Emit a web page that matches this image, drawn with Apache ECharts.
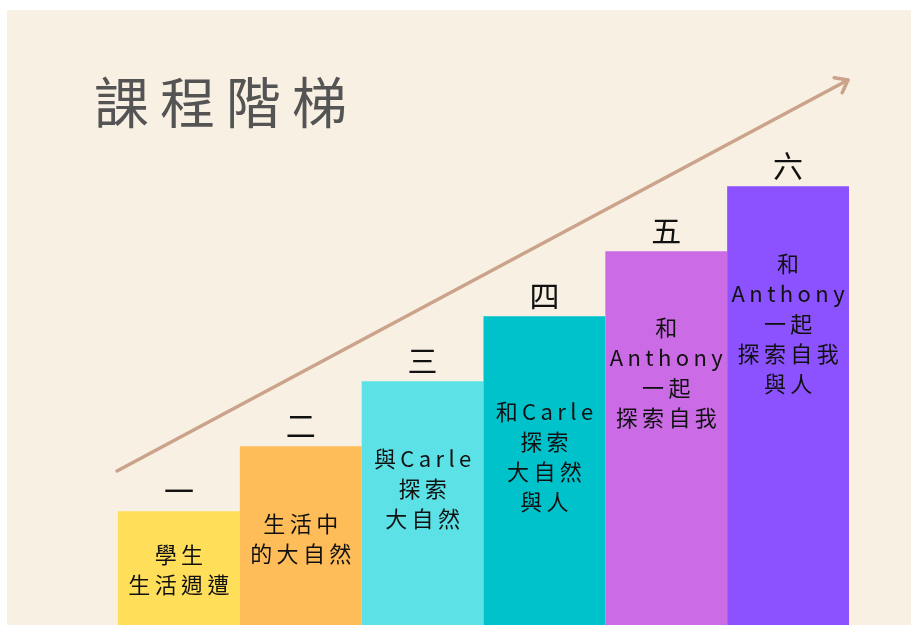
<!DOCTYPE html>
<html>
<head>
<meta charset="utf-8">
<script src="https://cdn.jsdelivr.net/npm/echarts@6/dist/echarts.min.js"></script>
<style>
html,body{margin:0;padding:0;background:#fff;}
#c{width:911px;height:625px;}
</style>
</head>
<body>
<div id="c"></div>
<script>
// ---- data ----
const stages = ['一', '二', '三', '四', '五', '六'];
const levels = [1.75, 2.75, 3.75, 4.75, 5.75, 6.75];
const topics = [
  '學生\n生活週遭',
  '生活中\n的大自然',
  '與Carle\n探索\n大自然',
  '和Carle\n探索\n大自然\n與人',
  '和\nAnthony\n一起\n探索自我',
  '和\nAnthony\n一起\n探索自我\n與人'
];
const titleText = '課程階梯';

// ---- styles ----
const barColors = ['#FFDE59', '#FFBD59', '#5CE1E6', '#00C2CB', '#CB6CE6', '#8C52FF'];
const labelOffsets = [28, 62, 62, 80, 61, 62];
const cream = '#F8F0E2';
const arrowColor = '#CBA38B';
const cjk = "'Noto Sans CJK TC', 'Noto Sans CJK SC', sans-serif";
// emulate letter spacing with thin spaces
const spaced = (s, sp) => s.split('\n').map(l => Array.from(l).join(sp)).join('\n');

const chart = echarts.init(document.getElementById('c'));

const x0 = 117, y0 = 471, x1 = 848, y1 = 80;
const th = Math.atan2(y1 - y0, x1 - x0);
const wl = 14, wa = 0.65;
const w1 = [x1 + wl * Math.cos(th + Math.PI - wa), y1 + wl * Math.sin(th + Math.PI - wa)];
const w2 = [x1 + wl * Math.cos(th + Math.PI + wa), y1 + wl * Math.sin(th + Math.PI + wa)];

chart.setOption({
  backgroundColor: '#ffffff',
  animation: false,
  title: {
    text: spaced(titleText, '\u2009'),
    left: 89,
    top: 70,
    textStyle: { fontFamily: cjk, fontSize: 55, fontWeight: 'normal', color: '#545454' }
  },
  graphic: [
    { type: 'rect', z: -10, silent: true, shape: { x: 7, y: 10, width: 904, height: 615 }, style: { fill: cream } },
    { type: 'line', z: 10, silent: true, shape: { x1: x0, y1: y0, x2: x1, y2: y1 }, style: { stroke: arrowColor, lineWidth: 3.5, lineCap: 'round' } },
    { type: 'polyline', z: 10, silent: true, shape: { points: [w1, [x1, y1], w2] }, style: { stroke: arrowColor, lineWidth: 3.5, lineCap: 'round', lineJoin: 'round', fill: null } }
  ],
  grid: { left: 118, right: 62, top: 10, bottom: 0 },
  xAxis: {
    type: 'category',
    data: stages,
    show: false
  },
  yAxis: {
    type: 'value',
    min: 0,
    max: 9.46,
    show: false
  },
  series: [
    {
      type: 'bar',
      barCategoryGap: 0,
      data: levels.map((v, i) => ({
        value: v,
        itemStyle: { color: barColors[i] },
        label: {
          show: true,
          position: 'insideTop',
          distance: labelOffsets[i],
          formatter: spaced(topics[i], '\u2009'),
          fontFamily: cjk,
          fontSize: 22,
          lineHeight: 30,
          color: '#111'
        }
      }))
    },
    {
      type: 'bar',
      barGap: '-100%',
      barCategoryGap: 0,
      z: 5,
      itemStyle: { color: 'rgba(0,0,0,0)' },
      data: levels,
      label: {
        show: true,
        position: 'top',
        distance: 6,
        formatter: (p) => stages[p.dataIndex],
        fontFamily: cjk,
        fontSize: 30,
        lineHeight: 30,
        color: '#111'
      }
    }
  ]
});
</script>
</body>
</html>
